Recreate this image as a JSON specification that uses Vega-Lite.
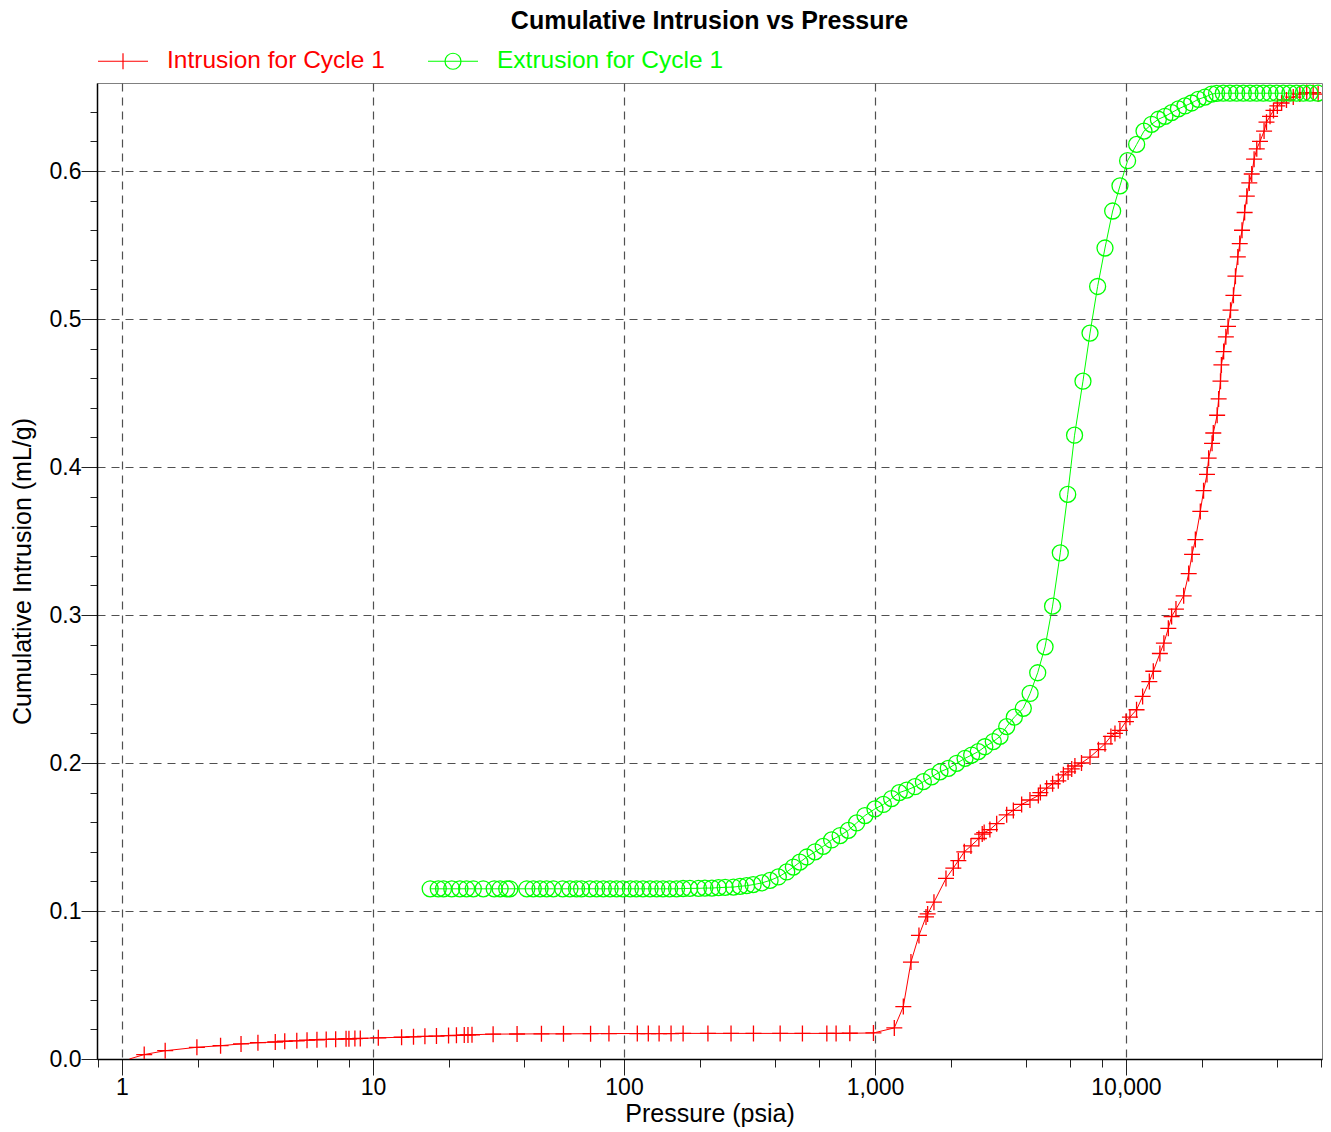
{
"$schema": "https://vega.github.io/schema/vega-lite/v6.json",
"width": 1225, "height": 976,
"autosize": {"type": "none"},
"padding": {"left": 97, "top": 83, "right": 9, "bottom": 73},
"background": "white",
"config": {"font": "Liberation Sans", "view": {"stroke": "#808080", "strokeWidth": 1}},
"title": {"text": "Cumulative Intrusion vs Pressure", "fontSize": 25, "fontWeight": "bold", "font": "Liberation Sans", "anchor": "middle", "frame": "group", "offset": -19, "baseline": "alphabetic", "color": "black"},
"data": {"values": [
{"s":"In","p":1.07,"v":0},{"s":"In","p":1.226,"v":0.003},{"s":"In","p":1.486,"v":0.0056},{"s":"In","p":1.988,"v":0.0079},{"s":"In","p":2.47,"v":0.009},{"s":"In","p":2.98,"v":0.0102},{"s":"In","p":3.48,"v":0.011},{"s":"In","p":4.08,"v":0.0115},{"s":"In","p":4.45,"v":0.012},{"s":"In","p":4.97,"v":0.0123},{"s":"In","p":5.46,"v":0.0127},{"s":"In","p":5.98,"v":0.013},{"s":"In","p":6.51,"v":0.0132},{"s":"In","p":7.1,"v":0.0134},{"s":"In","p":7.81,"v":0.0136},{"s":"In","p":8.02,"v":0.0137},{"s":"In","p":8.47,"v":0.0138},{"s":"In","p":8.9,"v":0.0139},{"s":"In","p":10.5,"v":0.0143},{"s":"In","p":13.0,"v":0.0147},{"s":"In","p":14.5,"v":0.015},{"s":"In","p":16.1,"v":0.0153},{"s":"In","p":17.9,"v":0.0155},{"s":"In","p":20.0,"v":0.0158},{"s":"In","p":21.5,"v":0.016},{"s":"In","p":23.1,"v":0.0162},{"s":"In","p":23.9,"v":0.0163},{"s":"In","p":24.8,"v":0.0164},{"s":"In","p":30.1,"v":0.0168},{"s":"In","p":37.5,"v":0.0169},{"s":"In","p":46.9,"v":0.017},{"s":"In","p":57.4,"v":0.017},{"s":"In","p":73.6,"v":0.0171},{"s":"In","p":87.1,"v":0.0172},{"s":"In","p":113,"v":0.0172},{"s":"In","p":125,"v":0.0172},{"s":"In","p":138,"v":0.0172},{"s":"In","p":154,"v":0.0172},{"s":"In","p":172,"v":0.0173},{"s":"In","p":216,"v":0.0173},{"s":"In","p":267,"v":0.0173},{"s":"In","p":328,"v":0.0173},{"s":"In","p":419,"v":0.0173},{"s":"In","p":514,"v":0.0173},{"s":"In","p":643,"v":0.0173},{"s":"In","p":700,"v":0.0173},{"s":"In","p":794,"v":0.0174},{"s":"In","p":986,"v":0.0176},{"s":"In","p":1194,"v":0.021},{"s":"In","p":1297,"v":0.0354},{"s":"In","p":1391,"v":0.0655},{"s":"In","p":1497,"v":0.0835},{"s":"In","p":1597,"v":0.096},{"s":"In","p":1621,"v":0.098},{"s":"In","p":1718,"v":0.106},{"s":"In","p":1918,"v":0.122},{"s":"In","p":2052,"v":0.129},{"s":"In","p":2148,"v":0.134},{"s":"In","p":2269,"v":0.14},{"s":"In","p":2412,"v":0.144},{"s":"In","p":2594,"v":0.149},{"s":"In","p":2675,"v":0.152},{"s":"In","p":2723,"v":0.153},{"s":"In","p":2870,"v":0.155},{"s":"In","p":3054,"v":0.159},{"s":"In","p":3348,"v":0.165},{"s":"In","p":3559,"v":0.168},{"s":"In","p":3840,"v":0.172},{"s":"In","p":4145,"v":0.175},{"s":"In","p":4476,"v":0.178},{"s":"In","p":4560,"v":0.18},{"s":"In","p":4830,"v":0.183},{"s":"In","p":5102,"v":0.186},{"s":"In","p":5375,"v":0.188},{"s":"In","p":5630,"v":0.192},{"s":"In","p":5880,"v":0.194},{"s":"In","p":6080,"v":0.196},{"s":"In","p":6260,"v":0.198},{"s":"In","p":6650,"v":0.2},{"s":"In","p":7190,"v":0.204},{"s":"In","p":7770,"v":0.209},{"s":"In","p":8250,"v":0.213},{"s":"In","p":8710,"v":0.218},{"s":"In","p":9040,"v":0.22},{"s":"In","p":9460,"v":0.222},{"s":"In","p":10000,"v":0.228},{"s":"In","p":10370,"v":0.231},{"s":"In","p":11020,"v":0.236},{"s":"In","p":11650,"v":0.245},{"s":"In","p":12390,"v":0.255},{"s":"In","p":12850,"v":0.262},{"s":"In","p":13650,"v":0.274},{"s":"In","p":14160,"v":0.281},{"s":"In","p":14750,"v":0.291},{"s":"In","p":15200,"v":0.299},{"s":"In","p":15820,"v":0.304},{"s":"In","p":16980,"v":0.313},{"s":"In","p":17780,"v":0.328},{"s":"In","p":18340,"v":0.341},{"s":"In","p":18900,"v":0.351},{"s":"In","p":19780,"v":0.37},{"s":"In","p":20380,"v":0.384},{"s":"In","p":21030,"v":0.395},{"s":"In","p":21350,"v":0.406},{"s":"In","p":22030,"v":0.416},{"s":"In","p":22280,"v":0.423},{"s":"In","p":23080,"v":0.435},{"s":"In","p":23400,"v":0.446},{"s":"In","p":23800,"v":0.458},{"s":"In","p":24000,"v":0.469},{"s":"In","p":24500,"v":0.478},{"s":"In","p":25000,"v":0.488},{"s":"In","p":25500,"v":0.495},{"s":"In","p":26100,"v":0.506},{"s":"In","p":26800,"v":0.516},{"s":"In","p":27300,"v":0.529},{"s":"In","p":27900,"v":0.542},{"s":"In","p":28400,"v":0.551},{"s":"In","p":29000,"v":0.56},{"s":"In","p":29700,"v":0.572},{"s":"In","p":30300,"v":0.583},{"s":"In","p":31000,"v":0.592},{"s":"In","p":31700,"v":0.598},{"s":"In","p":32400,"v":0.608},{"s":"In","p":33200,"v":0.615},{"s":"In","p":34200,"v":0.62},{"s":"In","p":35500,"v":0.627},{"s":"In","p":36300,"v":0.633},{"s":"In","p":37500,"v":0.637},{"s":"In","p":38700,"v":0.641},{"s":"In","p":40100,"v":0.644},{"s":"In","p":41700,"v":0.646},{"s":"In","p":43600,"v":0.648},{"s":"In","p":46400,"v":0.65},{"s":"In","p":49300,"v":0.652},{"s":"In","p":52500,"v":0.653},{"s":"In","p":55700,"v":0.653},{"s":"In","p":58300,"v":0.652},
{"s":"Ex","p":58000,"v":0.6526},{"s":"Ex","p":54100,"v":0.6526},{"s":"Ex","p":50850,"v":0.6526},{"s":"Ex","p":47820,"v":0.6526},{"s":"Ex","p":44980,"v":0.6526},{"s":"Ex","p":42330,"v":0.6526},{"s":"Ex","p":39830,"v":0.6526},{"s":"Ex","p":37480,"v":0.6526},{"s":"Ex","p":35230,"v":0.6526},{"s":"Ex","p":33170,"v":0.6526},{"s":"Ex","p":31200,"v":0.6526},{"s":"Ex","p":29350,"v":0.6526},{"s":"Ex","p":27610,"v":0.6526},{"s":"Ex","p":25950,"v":0.6526},{"s":"Ex","p":24420,"v":0.6526},{"s":"Ex","p":22970,"v":0.6525},{"s":"Ex","p":21930,"v":0.652},{"s":"Ex","p":20640,"v":0.65},{"s":"Ex","p":19410,"v":0.6485},{"s":"Ex","p":18270,"v":0.646},{"s":"Ex","p":17180,"v":0.644},{"s":"Ex","p":16180,"v":0.642},{"s":"Ex","p":15210,"v":0.6395},{"s":"Ex","p":14300,"v":0.637},{"s":"Ex","p":13460,"v":0.635},{"s":"Ex","p":12650,"v":0.6316},{"s":"Ex","p":11800,"v":0.627},{"s":"Ex","p":11030,"v":0.618},{"s":"Ex","p":10150,"v":0.607},{"s":"Ex","p":9465,"v":0.59},{"s":"Ex","p":8850,"v":0.573},{"s":"Ex","p":8250,"v":0.548},{"s":"Ex","p":7710,"v":0.522},{"s":"Ex","p":7190,"v":0.4905},{"s":"Ex","p":6740,"v":0.458},{"s":"Ex","p":6240,"v":0.4215},{"s":"Ex","p":5860,"v":0.3815},{"s":"Ex","p":5475,"v":0.342},{"s":"Ex","p":5100,"v":0.306},{"s":"Ex","p":4760,"v":0.2785},{"s":"Ex","p":4450,"v":0.261},{"s":"Ex","p":4150,"v":0.247},{"s":"Ex","p":3900,"v":0.237},{"s":"Ex","p":3590,"v":0.231},{"s":"Ex","p":3348,"v":0.2246},{"s":"Ex","p":3150,"v":0.218},{"s":"Ex","p":2960,"v":0.2145},{"s":"Ex","p":2740,"v":0.211},{"s":"Ex","p":2580,"v":0.2077},{"s":"Ex","p":2428,"v":0.2054},{"s":"Ex","p":2285,"v":0.2032},{"s":"Ex","p":2115,"v":0.1998},{"s":"Ex","p":1960,"v":0.1964},{"s":"Ex","p":1815,"v":0.194},{"s":"Ex","p":1682,"v":0.1907},{"s":"Ex","p":1559,"v":0.1874},{"s":"Ex","p":1443,"v":0.184},{"s":"Ex","p":1337,"v":0.1817},{"s":"Ex","p":1250,"v":0.18},{"s":"Ex","p":1165,"v":0.176},{"s":"Ex","p":1080,"v":0.172},{"s":"Ex","p":1000,"v":0.169},{"s":"Ex","p":912,"v":0.1645},{"s":"Ex","p":845,"v":0.1595},{"s":"Ex","p":783,"v":0.1545},{"s":"Ex","p":726,"v":0.151},{"s":"Ex","p":672,"v":0.148},{"s":"Ex","p":622,"v":0.1437},{"s":"Ex","p":577,"v":0.14},{"s":"Ex","p":535,"v":0.1365},{"s":"Ex","p":502,"v":0.133},{"s":"Ex","p":473,"v":0.1297},{"s":"Ex","p":445,"v":0.1264},{"s":"Ex","p":412,"v":0.123},{"s":"Ex","p":382,"v":0.1207},{"s":"Ex","p":354,"v":0.119},{"s":"Ex","p":327,"v":0.1178},{"s":"Ex","p":308,"v":0.1171},{"s":"Ex","p":290,"v":0.1167},{"s":"Ex","p":273,"v":0.1162},{"s":"Ex","p":253,"v":0.116},{"s":"Ex","p":238,"v":0.1158},{"s":"Ex","p":224,"v":0.1155},{"s":"Ex","p":210,"v":0.1155},{"s":"Ex","p":198,"v":0.1153},{"s":"Ex","p":183,"v":0.1153},{"s":"Ex","p":172,"v":0.1152},{"s":"Ex","p":162,"v":0.115},{"s":"Ex","p":152,"v":0.115},{"s":"Ex","p":143,"v":0.115},{"s":"Ex","p":135,"v":0.115},{"s":"Ex","p":127,"v":0.115},{"s":"Ex","p":119,"v":0.115},{"s":"Ex","p":112,"v":0.115},{"s":"Ex","p":106,"v":0.115},{"s":"Ex","p":99,"v":0.115},{"s":"Ex","p":93.5,"v":0.115},{"s":"Ex","p":88,"v":0.115},{"s":"Ex","p":82.7,"v":0.115},{"s":"Ex","p":77.8,"v":0.115},{"s":"Ex","p":73.2,"v":0.115},{"s":"Ex","p":67.8,"v":0.115},{"s":"Ex","p":64.7,"v":0.115},{"s":"Ex","p":60.9,"v":0.115},{"s":"Ex","p":57,"v":0.115},{"s":"Ex","p":52.3,"v":0.115},{"s":"Ex","p":49.2,"v":0.115},{"s":"Ex","p":46.3,"v":0.115},{"s":"Ex","p":43.5,"v":0.115},{"s":"Ex","p":41,"v":0.115},{"s":"Ex","p":35.1,"v":0.115},{"s":"Ex","p":34.1,"v":0.115},{"s":"Ex","p":32.1,"v":0.115},{"s":"Ex","p":30.4,"v":0.115},{"s":"Ex","p":27.5,"v":0.115},{"s":"Ex","p":25.1,"v":0.115},{"s":"Ex","p":23.6,"v":0.115},{"s":"Ex","p":22.2,"v":0.115},{"s":"Ex","p":20.6,"v":0.115},{"s":"Ex","p":19.1,"v":0.115},{"s":"Ex","p":18.2,"v":0.115},{"s":"Ex","p":16.9,"v":0.115}
]},
"encoding": {
  "x": {"field": "p", "type": "quantitative",
    "scale": {"type": "log", "domain": [0.795, 60400], "nice": false, "zero": false},
    "axis": {"title": "Pressure (psia)", "titleFontSize": 25, "titleFontWeight": "normal", "titleColor": "black", "titlePadding": 2,
      "values": [0.8,1,2,4,6,8,10,20,40,60,80,100,200,400,600,800,1000,2000,4000,6000,8000,10000,20000,40000,60000],
      "labelExpr": "indexof([1,10,100,1000,10000], datum.value) >= 0 ? format(datum.value, ',') : ''",
      "labelFontSize": 23, "labelColor": "black", "labelPadding": 1, "labelFlush": false, "labelOverlap": false,
      "tickSize": {"condition": {"test": "indexof([1,10,100,1000,10000], datum.value) >= 0", "value": 16}, "value": 8},
      "tickColor": "#222", "tickWidth": 1, "domainColor": "black", "domainWidth": 1.5,
      "grid": true, "gridColor": "#505050", "gridDash": [8, 6], "gridWidth": 1.2,
      "gridOpacity": {"condition": {"test": "indexof([1,10,100,1000,10000], datum.value) >= 0", "value": 1}, "value": 0}}},
  "y": {"field": "v", "type": "quantitative",
    "scale": {"domain": [0, 0.6595], "nice": false, "zero": true},
    "axis": {"title": "Cumulative Intrusion (mL/g)", "titleFontSize": 25, "titleFontWeight": "normal", "titleColor": "black", "titlePadding": 14,
      "values": [0,0.02,0.04,0.06,0.08,0.1,0.12,0.14,0.16,0.18,0.2,0.22,0.24,0.26,0.28,0.3,0.32,0.34,0.36,0.38,0.4,0.42,0.44,0.46,0.48,0.5,0.52,0.54,0.56,0.58,0.6,0.62,0.64],
      "labelExpr": "abs(datum.value*10 - round(datum.value*10)) < 1e-6 ? format(datum.value, '.1f') : ''",
      "labelFontSize": 23, "labelColor": "black", "labelPadding": 0, "labelOverlap": false, "labelFlush": false,
      "tickSize": {"condition": {"test": "abs(datum.value*10 - round(datum.value*10)) < 1e-6", "value": 16}, "value": 7},
      "tickColor": "#222", "tickWidth": 1, "domainColor": "black", "domainWidth": 1.5,
      "grid": true, "gridColor": "#505050", "gridDash": [8, 6], "gridWidth": 1.2,
      "gridOpacity": {"condition": {"test": "abs(datum.value*10 - round(datum.value*10)) < 1e-6 && datum.value > 0", "value": 1}, "value": 0}}},
  "color": {"field": "s", "type": "nominal",
    "scale": {"domain": ["In", "Ex"], "range": ["#ff0000", "#00ff00"]},
    "legend": {"orient": "none", "legendX": 0, "legendY": -48, "direction": "horizontal", "title": null, "padding": 0,
      "labelExpr": "datum.value == 'In' ? 'Intrusion for Cycle 1' : 'Extrusion for Cycle 1'",
      "labelFontSize": 24.5, "labelFont": "Liberation Sans", "labelLimit": 0, "labelOffset": 18, "columnPadding": 40,
      "symbolSize": 2500, "symbolStrokeWidth": 1.2,
      "encode": {
        "symbols": {"update": {
          "shape": {"signal": "datum.value == 'In' ? 'M-1,0H1M0,-0.32V0.32' : 'M-1,0H1M0.32,0A0.32,0.32 0 1 1 -0.32,0A0.32,0.32 0 1 1 0.32,0'"},
          "fill": {"value": "transparent"},
          "stroke": {"signal": "datum.value == 'In' ? '#ff0000' : '#00ff00'"},
          "strokeWidth": {"value": 1.2}}},
        "labels": {"update": {"fill": {"signal": "datum.value == 'In' ? '#ff0000' : '#00ff00'"}}}}}}
},
"layer": [
  {"mark": {"type": "line", "strokeWidth": 1, "clip": true}},
  {"transform": [{"filter": "datum.v > 0"}],
   "mark": {"type": "point", "filled": false, "strokeWidth": 1.3, "size": 256, "clip": true, "opacity": 1},
   "encoding": {"shape": {"condition": {"test": "datum.s == 'In'", "value": "M-1,0H1M0,-1V1"}, "value": "circle"}}}
]
}
